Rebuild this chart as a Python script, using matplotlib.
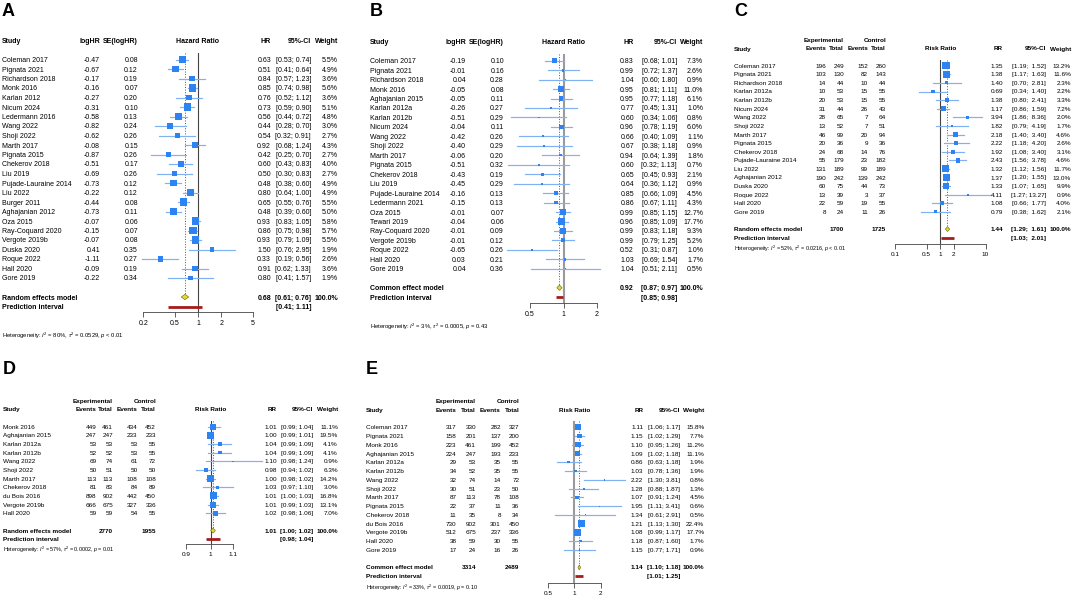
import matplotlib
matplotlib.use("Agg")
import matplotlib.pyplot as plt
from matplotlib.ticker import NullLocator

plt.rcParams['font.family'] = ['Liberation Sans', 'DejaVu Sans']
plt.rcParams['mathtext.fontset'] = 'custom'
plt.rcParams['mathtext.rm'] = 'Liberation Sans'
plt.rcParams['mathtext.it'] = 'Liberation Sans:italic'

W, H = 1072, 597

# ---------------- panel A : hazard ratios ----------------
a_study = ['Coleman 2017', 'Pignata 2021', 'Richardson 2018', 'Monk 2016', 'Karlan 2012', 'Nicum 2024',
           'Ledermann 2016', 'Wang 2022', 'Shoji 2022', 'Marth 2017', 'Pignata 2015', 'Chekerov 2018',
           'Liu 2019', 'Pujade-Lauraine 2014', 'Liu 2022', 'Burger 2011', 'Aghajanian 2012', 'Oza 2015',
           'Ray-Coquard 2020', 'Vergote 2019b', 'Duska 2020', 'Roque 2022', 'Hall 2020', 'Gore 2019']
a_loghr = [-0.47, -0.67, -0.17, -0.16, -0.27, -0.31, -0.58, -0.82, -0.62, -0.08, -0.87, -0.51,
           -0.69, -0.73, -0.22, -0.44, -0.73, -0.07, -0.15, -0.07, 0.41, -1.11, -0.09, -0.22]
a_se = [0.08, 0.12, 0.19, 0.07, 0.20, 0.10, 0.13, 0.24, 0.26, 0.15, 0.26, 0.17,
        0.26, 0.12, 0.12, 0.08, 0.11, 0.06, 0.07, 0.08, 0.35, 0.27, 0.19, 0.34]
a_est = [0.63, 0.51, 0.84, 0.85, 0.76, 0.73, 0.56, 0.44, 0.54, 0.92, 0.42, 0.60,
         0.50, 0.48, 0.80, 0.65, 0.48, 0.93, 0.86, 0.93, 1.50, 0.33, 0.91, 0.80]
a_lo = [0.53, 0.41, 0.57, 0.74, 0.52, 0.59, 0.44, 0.28, 0.32, 0.68, 0.25, 0.43,
        0.30, 0.38, 0.64, 0.55, 0.39, 0.83, 0.75, 0.79, 0.76, 0.19, 0.62, 0.41]
a_hi = [0.74, 0.64, 1.23, 0.98, 1.12, 0.90, 0.72, 0.70, 0.91, 1.24, 0.70, 0.83,
        0.83, 0.60, 1.00, 0.76, 0.60, 1.05, 0.98, 1.09, 2.95, 0.56, 1.33, 1.57]
a_w = [5.5, 4.9, 3.6, 5.6, 3.6, 5.1, 4.8, 3.0, 2.7, 4.3, 2.7, 4.0,
       2.7, 4.9, 4.9, 5.5, 5.0, 5.8, 5.7, 5.5, 1.9, 2.6, 3.6, 1.9]
a_summary = (0.68, 0.61, 0.76)
a_pi = (0.41, 1.11)
a_het = r'Heterogeneity: $I^2$ = 80%, $\tau^2$ = 0.0529, $p$ < 0.01'

# ---------------- panel B : hazard ratios ----------------
b_study = ['Coleman 2017', 'Pignata 2021', 'Richardson 2018', 'Monk 2016', 'Aghajanian 2015', 'Karlan 2012a',
           'Karlan 2012b', 'Nicum 2024', 'Wang 2022', 'Shoji 2022', 'Marth 2017', 'Pignata 2015',
           'Chekerov 2018', 'Liu 2019', 'Pujade-Lauraine 2014', 'Ledermann 2021', 'Oza 2015', 'Tewari 2019',
           'Ray-Coquard 2020', 'Vergote 2019b', 'Roque 2022', 'Hall 2020', 'Gore 2019']
b_loghr = [-0.19, -0.01, 0.04, -0.05, -0.05, -0.26, -0.51, -0.04, -0.42, -0.40, -0.06, -0.51,
           -0.43, -0.45, -0.16, -0.15, -0.01, -0.04, -0.01, -0.01, -0.65, 0.03, 0.04]
b_se = [0.10, 0.16, 0.28, 0.08, 0.11, 0.27, 0.29, 0.11, 0.26, 0.29, 0.20, 0.32,
        0.19, 0.29, 0.13, 0.13, 0.07, 0.06, 0.09, 0.12, 0.26, 0.21, 0.36]
b_est = [0.83, 0.99, 1.04, 0.95, 0.95, 0.77, 0.60, 0.96, 0.66, 0.67, 0.94, 0.60,
         0.65, 0.64, 0.85, 0.86, 0.99, 0.96, 0.99, 0.99, 0.52, 1.03, 1.04]
b_lo = [0.68, 0.72, 0.60, 0.81, 0.77, 0.45, 0.34, 0.78, 0.40, 0.38, 0.64, 0.32,
        0.45, 0.36, 0.66, 0.67, 0.85, 0.85, 0.83, 0.79, 0.31, 0.69, 0.51]
b_hi = [1.01, 1.37, 1.80, 1.11, 1.18, 1.31, 1.06, 1.19, 1.09, 1.18, 1.39, 1.13,
        0.93, 1.12, 1.09, 1.11, 1.15, 1.09, 1.18, 1.25, 0.87, 1.54, 2.11]
b_w = [7.3, 2.6, 0.9, 11.0, 6.1, 1.0, 0.8, 6.0, 1.1, 0.9, 1.8, 0.7,
       2.1, 0.9, 4.5, 4.3, 12.7, 17.7, 9.3, 5.2, 1.0, 1.7, 0.5]
b_summary = (0.92, 0.87, 0.97)
b_pi = (0.85, 0.98)
b_het = r'Heterogeneity: $I^2$ = 3%, $\tau^2$ = 0.0005, $p$ = 0.43'

# ---------------- panel C : risk ratios ----------------
c_study = ['Coleman 2017', 'Pignata 2021', 'Richardson 2018', 'Karlan 2012a', 'Karlan 2012b', 'Nicum 2024',
           'Wang 2022', 'Shoji 2022', 'Marth 2017', 'Pignata 2015', 'Chekerov 2018', 'Pujade-Lauraine 2014',
           'Liu 2022', 'Aghajanian 2012', 'Duska 2020', 'Roque 2022', 'Hall 2020', 'Gore 2019']
c_ev_e = [196, 103, 14, 10, 20, 31, 28, 13, 46, 20, 24, 55, 131, 190, 60, 13, 22, 8]
c_n_e = [249, 130, 44, 53, 53, 44, 65, 52, 99, 36, 68, 179, 189, 242, 75, 39, 59, 24]
c_ev_c = [152, 82, 10, 15, 15, 26, 7, 7, 20, 9, 14, 23, 99, 139, 44, 3, 19, 11]
c_n_c = [260, 143, 44, 55, 55, 43, 64, 51, 94, 36, 76, 182, 189, 242, 73, 37, 55, 26]
c_est = [1.35, 1.38, 1.40, 0.69, 1.38, 1.17, 3.94, 1.82, 2.18, 2.22, 1.92, 2.43, 1.32, 1.37, 1.33, 4.11, 1.08, 0.79]
c_lo = [1.19, 1.17, 0.70, 0.34, 0.80, 0.86, 1.86, 0.79, 1.40, 1.18, 1.08, 1.56, 1.12, 1.20, 1.07, 1.27, 0.66, 0.38]
c_hi = [1.52, 1.63, 2.81, 1.40, 2.41, 1.59, 8.36, 4.19, 3.40, 4.20, 3.40, 3.78, 1.56, 1.55, 1.65, 13.27, 1.77, 1.62]
c_w = [13.2, 11.6, 2.3, 2.2, 3.3, 7.2, 2.0, 1.7, 4.6, 2.6, 3.1, 4.6, 11.7, 13.0, 9.9, 0.9, 4.0, 2.1]
c_totals = (1700, 1725)
c_summary = (1.44, 1.29, 1.61)
c_pi = (1.03, 2.01)
c_het = r'Heterogeneity: $I^2$ = 52%, $\tau^2$ = 0.0216, $p$ < 0.01'

# ---------------- panel D : risk ratios ----------------
d_study = ['Monk 2016', 'Aghajanian 2015', 'Karlan 2012a', 'Karlan 2012b', 'Wang 2022', 'Shoji 2022',
           'Marth 2017', 'Chekerov 2018', 'du Bois 2016', 'Vergote 2019b', 'Hall 2020']
d_ev_e = [449, 247, 53, 52, 69, 50, 113, 81, 898, 666, 59]
d_n_e = [461, 247, 53, 52, 74, 51, 113, 83, 902, 675, 59]
d_ev_c = [434, 233, 53, 53, 61, 50, 108, 84, 442, 327, 54]
d_n_c = [452, 233, 55, 55, 72, 50, 108, 89, 450, 336, 55]
d_est = [1.01, 1.00, 1.04, 1.04, 1.10, 0.98, 1.00, 1.03, 1.01, 1.01, 1.02]
d_lo = [0.99, 0.99, 0.99, 0.99, 0.98, 0.94, 0.98, 0.97, 1.00, 0.99, 0.98]
d_hi = [1.04, 1.01, 1.09, 1.09, 1.24, 1.02, 1.02, 1.10, 1.03, 1.03, 1.06]
d_w = [11.1, 19.5, 4.1, 4.1, 0.9, 6.3, 14.2, 3.0, 16.8, 13.1, 7.0]
d_totals = (2770, 1955)
d_summary = (1.01, 1.00, 1.02)
d_pi = (0.98, 1.04)
d_het = r'Heterogeneity: $I^2$ = 57%, $\tau^2$ = 0.0002, $p$ = 0.01'

# ---------------- panel E : risk ratios ----------------
e_study = ['Coleman 2017', 'Pignata 2021', 'Monk 2016', 'Aghajanian 2015', 'Karlan 2012a', 'Karlan 2012b',
           'Wang 2022', 'Shoji 2022', 'Marth 2017', 'Pignata 2015', 'Chekerov 2018', 'du Bois 2016',
           'Vergote 2019b', 'Hall 2020', 'Gore 2019']
e_ev_e = [317, 158, 223, 224, 29, 34, 32, 30, 87, 22, 11, 730, 512, 38, 17]
e_n_e = [330, 201, 461, 247, 53, 52, 74, 51, 113, 37, 35, 902, 675, 59, 24]
e_ev_c = [282, 137, 199, 193, 35, 35, 14, 23, 78, 11, 8, 301, 237, 30, 16]
e_n_c = [327, 200, 452, 233, 55, 55, 72, 50, 108, 36, 34, 450, 336, 55, 26]
e_est = [1.11, 1.15, 1.10, 1.09, 0.86, 1.03, 2.22, 1.28, 1.07, 1.95, 1.34, 1.21, 1.08, 1.18, 1.15]
e_lo = [1.06, 1.02, 0.95, 1.02, 0.63, 0.78, 1.30, 0.88, 0.91, 1.11, 0.61, 1.13, 0.99, 0.87, 0.77]
e_hi = [1.17, 1.29, 1.26, 1.18, 1.18, 1.36, 3.81, 1.87, 1.24, 3.41, 2.91, 1.30, 1.17, 1.60, 1.71]
e_w = [15.8, 7.7, 11.2, 11.1, 1.9, 1.9, 0.8, 1.3, 4.5, 0.6, 0.5, 22.4, 17.7, 1.7, 0.9]
e_totals = (3314, 2489)
e_summary = (1.14, 1.10, 1.18)
e_pi = (1.01, 1.25)
e_het = r'Heterogeneity: $I^2$ = 33%, $\tau^2$ = 0.0019, $p$ = 0.10'

SQ = '#2d83f2'
CI = '#7fb1f3'

fig = plt.figure(figsize=(W / 100, H / 100), dpi=100)


def forest(p):
    y0, dy, fs = p['y0'], p['dy'], p['fs']
    n = len(p['study'])
    top, axis_row = -0.7, n + p['axis_off']

    def ypx(r):
        return y0 + r * dy

    def put(x, r, s, ha='right', bold=False, size=None):
        fig.text(x / W, 1 - ypx(r) / H, s, ha=ha, va='center_baseline',
                 fontsize=size or fs, fontweight='bold' if bold else 'normal')

    fig.text(p['study_x'] / W, 1 - p['letter_y'] / H, p['letter'], fontsize=13,
             fontweight='bold', ha='left', va='center')

    # headers
    put(p['study_x'], -2, 'Study', ha='left', bold=True)
    if p['kind'] == 'hr':
        put(p['cols'][0], -2, 'logHR', bold=True)
        put(p['cols'][1], -2, 'SE(logHR)', bold=True)
        put(p['x_one'], -2, 'Hazard Ratio', ha='center', bold=True)
        put(p['x_est'], -2, 'HR', bold=True)
    else:
        put(p['cols'][1], -3, 'Experimental', bold=True)
        put(p['cols'][3], -3, 'Control', bold=True)
        for x, s in zip(p['cols'], ['Events', 'Total', 'Events', 'Total']):
            put(x, -2, s, bold=True)
        put(p['x_one'], -2, 'Risk Ratio', ha='center', bold=True)
        put(p['x_est'], -2, 'RR', bold=True)
    put(p['x_ci'], -2, '95%-CI', bold=True)
    put(p['x_w'], -2, 'Weight', bold=True)

    # study rows
    for i in range(n):
        put(p['study_x'], i, p['study'][i], ha='left')
        if p['kind'] == 'hr':
            put(p['cols'][0], i, f"{p['c1'][i]:.2f}")
            put(p['cols'][1], i, f"{p['c2'][i]:.2f}")
        else:
            for x, vals in zip(p['cols'], p['counts']):
                put(x, i, str(vals[i]))
        put(p['x_est'], i, f"{p['est'][i]:.2f}")
        put(p['x_ci'], i, f"[{p['lo'][i]:.2f}; {p['hi'][i]:>{p['ciw']}.2f}]")
        put(p['x_w'], i, f"{p['w'][i]:.1f}%")

    est, slo, shi = p['summary']
    put(p['study_x'], n + 1, p['model'], ha='left', bold=True)
    if p['kind'] == 'rr':
        put(p['cols'][1], n + 1, str(p['totals'][0]), bold=True)
        put(p['cols'][3], n + 1, str(p['totals'][1]), bold=True)
    put(p['x_est'], n + 1, f"{est:.2f}", bold=True)
    put(p['x_ci'], n + 1, f"[{slo:.2f}; {shi:>{p['ciw']}.2f}]", bold=True)
    put(p['x_w'], n + 1, '100.0%', bold=True)
    put(p['study_x'], n + 2, 'Prediction interval', ha='left', bold=True)
    put(p['x_ci'], n + 2, f"[{p['pi'][0]:.2f}; {p['pi'][1]:>{p['ciw']}.2f}]", bold=True)
    put(p['study_x'], n + p['het_off'], p['het'], ha='left', size=fs * 0.85)

    # plot area
    xa, xb = p['x_one'] - 70, p['x_one'] + 70
    ax = fig.add_axes([xa / W, 1 - ypx(axis_row) / H, (xb - xa) / W,
                       (ypx(axis_row) - ypx(top)) / H])
    ax.set_facecolor('none')
    ax.set_xscale('log')
    ax.set_xlim(10 ** ((xa - p['x_one']) / p['ppd']), 10 ** ((xb - p['x_one']) / p['ppd']))
    ax.set_ylim(axis_row, top)
    for s in ['top', 'left', 'right']:
        ax.spines[s].set_visible(False)
    ax.spines['bottom'].set_bounds(p['ticks'][0], p['ticks'][-1])
    ax.spines['bottom'].set_linewidth(0.6)
    ax.spines['bottom'].set_color('#444444')
    ax.set_yticks([])
    ax.set_xticks(p['ticks'])
    ax.set_xticklabels([f'{t:g}' for t in p['ticks']])
    ax.xaxis.set_minor_locator(NullLocator())
    ax.tick_params(axis='x', length=3.5, width=0.6, color='#444444', labelsize=fs, pad=2)

    ax.axvline(1, color=p['ref_c'], lw=p['ref_lw'], zorder=1)
    ax.plot([est, est], [top, n + 1], ls=':', color='#555555', lw=0.7, zorder=1)
    rows = list(range(n))
    for i in rows:
        ax.plot([p['lo'][i], p['hi'][i]], [i, i], color=CI, lw=0.85, zorder=2, clip_on=False)
    wmax = max(p['w'])
    sizes = [(5.4 * (wi / wmax) ** 0.5) ** 2 for wi in p['w']]
    ax.scatter(p['est'], rows, s=sizes, marker='s', color=SQ, linewidths=0, zorder=3, clip_on=False)
    ax.fill([slo, est, shi, est], [n + 1, n + 0.72, n + 1, n + 1.28],
            facecolor='#e6dc2a', edgecolor='#7d7a12', lw=0.5, zorder=3, clip_on=False)
    ax.plot(list(p['pi']), [n + 2, n + 2], color='#a61b1b', lw=2.0,
            solid_capstyle='butt', zorder=3, clip_on=False)


panels = [
    dict(letter='A', letter_y=12, kind='hr', study=a_study, c1=a_loghr, c2=a_se, est=a_est, lo=a_lo, hi=a_hi,
         w=a_w, summary=a_summary, pi=a_pi, het=a_het, model='Random effects model',
         y0=59.5, dy=9.5, fs=5.0, study_x=2, cols=[100, 138], x_est=271, x_ci=311, x_w=338, ciw=4,
         x_one=198, ppd=78, ticks=[0.2, 0.5, 1, 2, 5], axis_off=2.6, het_off=4.9,
         ref_c='#444444', ref_lw=0.8),
    dict(letter='B', letter_y=12, kind='hr', study=b_study, c1=b_loghr, c2=b_se, est=b_est, lo=b_lo, hi=b_hi,
         w=b_w, summary=b_summary, pi=b_pi, het=b_het, model='Common effect model',
         y0=60.7, dy=9.46, fs=5.0, study_x=370, cols=[466, 504], x_est=634, x_ci=677, x_w=703, ciw=4,
         x_one=563.5, ppd=111.3, ticks=[0.5, 1, 2], axis_off=2.6, het_off=5.0,
         ref_c='#9a9a9a', ref_lw=1.5),
    dict(letter='C', letter_y=12, kind='rr', study=c_study, counts=[c_ev_e, c_n_e, c_ev_c, c_n_c],
         est=c_est, lo=c_lo, hi=c_hi, w=c_w, totals=c_totals, summary=c_summary, pi=c_pi, het=c_het,
         model='Random effects model',
         y0=65.7, dy=8.6, fs=4.6, study_x=734, cols=[826, 844, 868, 886], x_est=1003, x_ci=1046, x_w=1071,
         ciw=5, x_one=940.3, ppd=45.3, ticks=[0.1, 0.5, 1, 2, 10], axis_off=2.75, het_off=3.1,
         ref_c='#444444', ref_lw=0.8),
    dict(letter='D', letter_y=370, kind='rr', study=d_study, counts=[d_ev_e, d_n_e, d_ev_c, d_n_c],
         est=d_est, lo=d_lo, hi=d_hi, w=d_w, totals=d_totals, summary=d_summary, pi=d_pi, het=d_het,
         model='Random effects model',
         y0=426.7, dy=8.66, fs=4.6, study_x=3, cols=[96.7, 113, 137.7, 156], x_est=276.7, x_ci=313, x_w=338,
         ciw=4, x_one=210.7, ppd=546, ticks=[0.9, 1, 1.1], axis_off=2.6, het_off=3.05,
         ref_c='#444444', ref_lw=0.8),
    dict(letter='E', letter_y=370, kind='rr', study=e_study, counts=[e_ev_e, e_n_e, e_ev_c, e_n_c],
         est=e_est, lo=e_lo, hi=e_hi, w=e_w, totals=e_totals, summary=e_summary, pi=e_pi, het=e_het,
         model='Common effect model',
         y0=427.3, dy=8.76, fs=4.6, study_x=366, cols=[456.7, 476, 501, 519.3], x_est=643.3, x_ci=680,
         x_w=704.3, ciw=4, x_one=574.3, ppd=88, ticks=[0.5, 1, 2], axis_off=2.8, het_off=3.1,
         ref_c='#9a9a9a', ref_lw=1.5),
]

for p in panels:
    forest(p)

fig.savefig('out.png', dpi=100)
